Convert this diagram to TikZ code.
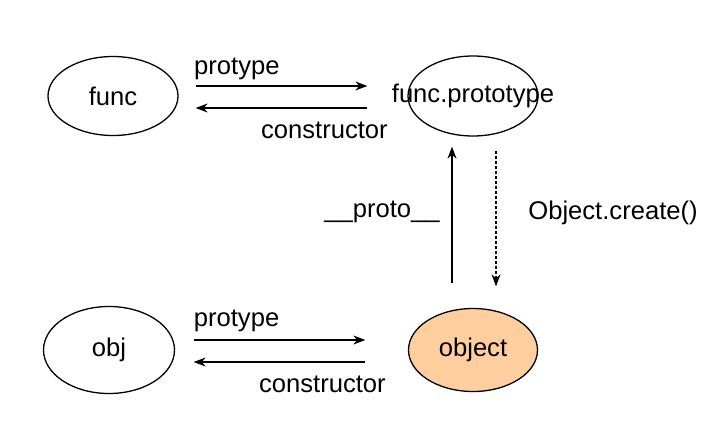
\documentclass[tikz,border=0pt]{standalone}
\usepackage{fontspec}
\setmainfont{Liberation Sans}
\usetikzlibrary{shapes,arrows.meta,positioning,calc}
\definecolor{peach}{RGB}{255,206,159}

\begin{document}
\begin{tikzpicture}[
    x=0.5pt, y=-0.5pt,
    font=\fontsize{12.8}{15}\selectfont,
    obox/.style={draw, ellipse, line width=0.65pt, inner sep=0pt},
    link/.style={line width=0.6pt, -{Stealth[length=6pt,width=4.5pt]}},
    lbl/.style={inner sep=0pt}
]
\useasboundingbox (0,0) rectangle (716,434);

\node[obox, minimum width=65pt, minimum height=39.5pt] (func) at (113,96) {func};
\node[obox, minimum width=65pt, minimum height=40pt, label={center:func.prototype}] (fproto) at (473,96) {};
\node[obox, minimum width=65.5pt, minimum height=43.5pt] (obj) at (109,350) {obj};
\node[obox, fill=peach, minimum width=64.5pt, minimum height=41.5pt] (object) at (473,350) {object};

% func <-> func.prototype
\draw[link] ([shift={(17,-10)}]func.east) -- node[lbl, pos=0.24, yshift=8.8pt]{protype} ([shift={(-40,-10)}]fproto.west);
\draw[link] ([shift={(-40,12)}]fproto.west) -- node[lbl, pos=0.25, yshift=-11pt]{constructor} ([shift={(17,12)}]func.east);

% obj <-> object
\draw[link] ([shift={(18.5,-10)}]obj.east) -- node[lbl, pos=0.25, yshift=9.8pt]{protype} ([shift={(-42.5,-10)}]object.west);
\draw[link] ([shift={(-42.5,12)}]object.west) -- node[lbl, pos=0.25, yshift=-11pt]{constructor} ([shift={(18.5,12)}]obj.east);

% object <-> func.prototype
\draw[link] ([shift={(-21,-24.5)}]object.north) -- node[lbl, pos=0.52, xshift=-35pt]{\_\_proto\_\_} ([shift={(-21,10)}]fproto.south);
\draw[link, dash pattern=on 1.5pt off 1pt] ([shift={(23,14)}]fproto.south) -- node[lbl, pos=0.46, xshift=58.5pt]{Object.create()} ([shift={(23,-21.5)}]object.north);

\end{tikzpicture}
\end{document}
